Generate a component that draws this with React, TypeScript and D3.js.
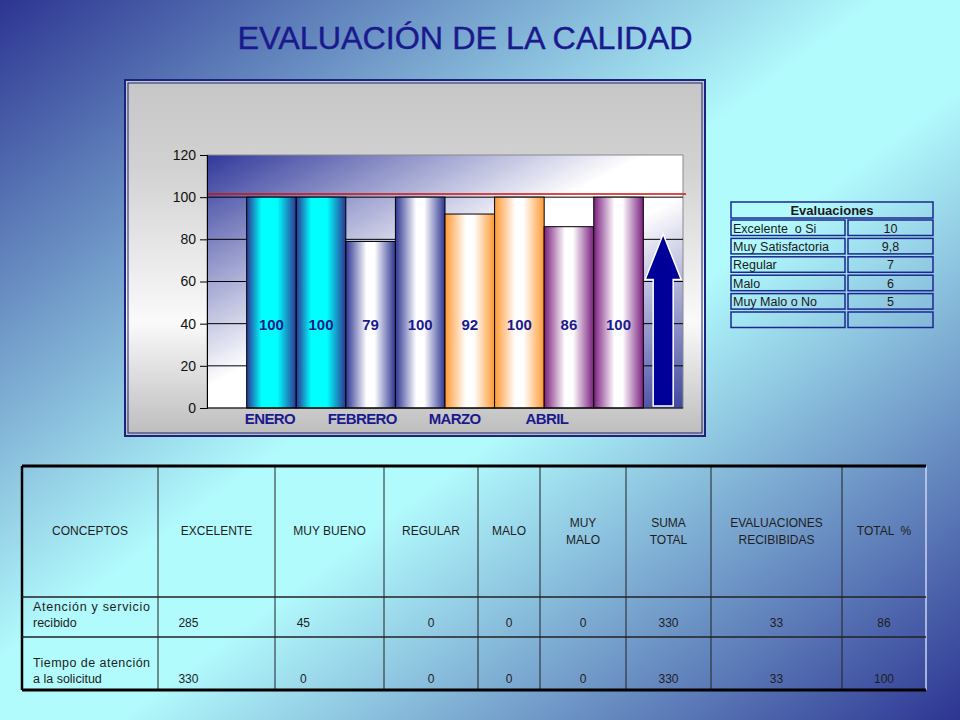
import React, { useEffect, useRef } from 'react';
import * as d3 from 'd3';

// chart data
const months = ['ENERO', 'FEBRERO', 'MARZO', 'ABRIL'];
const firstBar = [100, 79, 92, 86];
const secondBar = [100, 100, 100, 100];
const yTicks = [0, 20, 40, 60, 80, 100, 120];
const targetValue = 101.5;

// legend table
const legendLabels = ['Excelente  o Si', 'Muy Satisfactoria', 'Regular', 'Malo', 'Muy Malo o No', ''];
const legendValues = ['10', '9,8', '7', '6', '5', ''];

// bottom table
const tableHeaders = [
  ['CONCEPTOS'], ['EXCELENTE'], ['MUY BUENO'], ['REGULAR'], ['MALO'],
  ['MUY', 'MALO'], ['SUMA', 'TOTAL'], ['EVALUACIONES', 'RECIBIBIDAS'], ['TOTAL  %'],
];
const rowConcepts = [
  ['Atención  y  servicio', 'recibido'],
  ['Tiempo de atención', 'a la solicitud'],
];
const rowValues = [
  [285, 45, 0, 0, 0, 330, 33, 86],
  [330, 0, 0, 0, 0, 330, 33, 100],
];

const barGradients = [
  { id: 'g-enero', edge: '#2d3592', mid: '#00ffff', from: 0.3, to: 0.62 },
  { id: 'g-feb', edge: '#2d3592', mid: '#ffffff', from: 0.42, to: 0.58 },
  { id: 'g-mar', edge: '#ff9933', mid: '#ffffff', from: 0.42, to: 0.58 },
  { id: 'g-abr', edge: '#7b1f7e', mid: '#ffffff', from: 0.42, to: 0.58 },
];

const App: React.FC = () => {
  const svgRef = useRef<SVGSVGElement>(null);

  useEffect(() => {
    if (!svgRef.current) return;
    document.body.style.margin = '0';
    const svg = d3.select(svgRef.current);
    svg.selectAll('*').remove();

    const width = 960;
    const height = 720;
    const font = 'Arial, "Liberation Sans", sans-serif';
    const navy = '#1a1a8e';

    const defs = svg.append('defs');

    // page background
    const bg = defs.append('linearGradient').attr('id', 'bg')
      .attr('x1', 0).attr('y1', 0).attr('x2', 1).attr('y2', 1);
    bg.append('stop').attr('offset', '0%').attr('stop-color', '#2d3592');
    bg.append('stop').attr('offset', '46%').attr('stop-color', '#b2fbfd');
    bg.append('stop').attr('offset', '56%').attr('stop-color', '#b2fbfd');
    bg.append('stop').attr('offset', '100%').attr('stop-color', '#2d3592');
    svg.append('rect').attr('width', width).attr('height', height).attr('fill', 'url(#bg)');

    // title
    svg.append('text')
      .attr('x', 465).attr('y', 49)
      .attr('text-anchor', 'middle')
      .attr('font-family', font)
      .attr('font-size', 31)
      .attr('textLength', 455)
      .attr('lengthAdjust', 'spacingAndGlyphs')
      .attr('fill', navy)
      .attr('stroke', navy)
      .attr('stroke-width', 0.4)
      .text('EVALUACIÓN DE LA CALIDAD');

    // chart box
    const box = { x: 125, y: 80, w: 580, h: 356 };
    const boxFill = defs.append('linearGradient').attr('id', 'boxfill')
      .attr('x1', 0).attr('y1', 0).attr('x2', 0).attr('y2', 1);
    boxFill.append('stop').attr('offset', '0%').attr('stop-color', '#c6c6c6');
    boxFill.append('stop').attr('offset', '25%').attr('stop-color', '#d2d2d2');
    boxFill.append('stop').attr('offset', '68%').attr('stop-color', '#fafafa');
    boxFill.append('stop').attr('offset', '100%').attr('stop-color', '#bcbcbc');
    svg.append('rect')
      .attr('x', box.x).attr('y', box.y).attr('width', box.w).attr('height', box.h)
      .attr('fill', 'url(#boxfill)')
      .attr('stroke', '#1a237e').attr('stroke-width', 2);
    svg.append('rect')
      .attr('x', box.x + 3).attr('y', box.y + 3).attr('width', box.w - 6).attr('height', box.h - 6)
      .attr('fill', 'none')
      .attr('stroke', '#1a237e').attr('stroke-width', 1);

    // plot area
    const margin = { left: 207, right: 683, top: 155, bottom: 408 };
    const plotFill = defs.append('linearGradient').attr('id', 'plotfill')
      .attr('x1', 0).attr('y1', 0).attr('x2', 1).attr('y2', 1);
    plotFill.append('stop').attr('offset', '0%').attr('stop-color', '#30389a');
    plotFill.append('stop').attr('offset', '46%').attr('stop-color', '#ffffff');
    plotFill.append('stop').attr('offset', '58%').attr('stop-color', '#ffffff');
    plotFill.append('stop').attr('offset', '100%').attr('stop-color', '#3e469e');
    svg.append('rect')
      .attr('x', margin.left).attr('y', margin.top)
      .attr('width', margin.right - margin.left).attr('height', margin.bottom - margin.top)
      .attr('fill', 'url(#plotfill)')
      .attr('stroke', '#8a8a8a').attr('stroke-width', 1);

    const y = d3.scaleLinear().domain([0, 120]).range([margin.bottom, margin.top]);
    const x = d3.scaleBand().domain(months).range([margin.left, margin.right])
      .paddingInner(0).paddingOuter(0.4);
    const xSub = d3.scaleBand().domain(['a', 'b']).range([0, x.bandwidth()]).padding(0);
    const xLabel = d3.scalePoint().domain(months).range([270, 547]);

    // gridlines
    svg.append('g')
      .selectAll('line')
      .data(yTicks.filter(t => t > 0 && t < 120))
      .join('line')
      .attr('x1', margin.left).attr('x2', margin.right)
      .attr('y1', d => y(d)).attr('y2', d => y(d))
      .attr('stroke', '#000').attr('stroke-width', 1);

    // red target line
    svg.append('line')
      .attr('x1', margin.left).attr('x2', margin.right + 3)
      .attr('y1', y(targetValue)).attr('y2', y(targetValue))
      .attr('stroke', '#d01010').attr('stroke-width', 1.5);

    // bar gradients
    barGradients.forEach(g => {
      const lg = defs.append('linearGradient').attr('id', g.id)
        .attr('x1', 0).attr('y1', 0).attr('x2', 1).attr('y2', 0);
      lg.append('stop').attr('offset', 0).attr('stop-color', g.edge);
      lg.append('stop').attr('offset', g.from).attr('stop-color', g.mid);
      lg.append('stop').attr('offset', g.to).attr('stop-color', g.mid);
      lg.append('stop').attr('offset', 1).attr('stop-color', g.edge);
    });

    const bars = months.flatMap((m, i) => [
      { month: m, key: 'a', value: firstBar[i], grad: barGradients[i].id },
      { month: m, key: 'b', value: secondBar[i], grad: barGradients[i].id },
    ]);

    svg.append('g')
      .selectAll('rect')
      .data(bars)
      .join('rect')
      .attr('x', d => x(d.month)! + xSub(d.key)!)
      .attr('y', d => y(d.value))
      .attr('width', xSub.bandwidth())
      .attr('height', d => y(0) - y(d.value))
      .attr('fill', d => `url(#${d.grad})`)
      .attr('stroke', '#000')
      .attr('stroke-width', 1);

    svg.append('g')
      .selectAll('text')
      .data(bars)
      .join('text')
      .attr('x', d => x(d.month)! + xSub(d.key)! + xSub.bandwidth() / 2)
      .attr('y', d => y(37))
      .attr('text-anchor', 'middle')
      .attr('font-family', font)
      .attr('font-weight', 'bold')
      .attr('font-size', 15)
      .attr('fill', navy)
      .text(d => d.value);

    // arrow
    const ax = (x(months[months.length - 1])! + x.bandwidth() + margin.right) / 2;
    const tip = y(82.5);
    const headBase = y(61);
    const foot = y(1);
    const arrowPath = [
      [ax, tip], [ax + 18, headBase], [ax + 10, headBase], [ax + 10, foot],
      [ax - 10, foot], [ax - 10, headBase], [ax - 18, headBase],
    ];
    svg.append('path')
      .attr('d', d3.line()(arrowPath as [number, number][]) + 'Z')
      .attr('fill', '#000099')
      .attr('stroke', '#ffffff')
      .attr('stroke-width', 1.5);

    // y axis
    const yAxis = svg.append('g')
      .attr('transform', `translate(${margin.left},0)`)
      .call(d3.axisLeft(y).tickValues(yTicks).tickSize(7).tickPadding(4));
    yAxis.select('.domain').attr('stroke', '#000');
    yAxis.selectAll('line').attr('stroke', '#000');
    yAxis.selectAll('text')
      .attr('font-family', font)
      .attr('font-size', 14)
      .attr('fill', '#111');

    // x axis line
    svg.append('line')
      .attr('x1', margin.left).attr('x2', margin.right)
      .attr('y1', y(0)).attr('y2', y(0))
      .attr('stroke', '#000').attr('stroke-width', 1);

    svg.append('g')
      .selectAll('text')
      .data(months)
      .join('text')
      .attr('x', d => xLabel(d)!)
      .attr('y', 424)
      .attr('text-anchor', 'middle')
      .attr('font-family', font)
      .attr('font-weight', 'bold')
      .attr('font-size', 15)
      .attr('letter-spacing', -0.6)
      .attr('fill', navy)
      .text(d => d);

    // legend table
    const lg = svg.append('g').attr('font-family', font).attr('fill', '#1a1a1a');
    const legX = 731, legW = 202, col1W = 114, col2X = 848;
    const cellStroke = '#1c2890';
    lg.append('rect').attr('x', legX).attr('y', 202).attr('width', legW).attr('height', 16)
      .attr('fill', 'none').attr('stroke', cellStroke).attr('stroke-width', 1.5);
    lg.append('text').attr('x', legX + legW / 2).attr('y', 215)
      .attr('text-anchor', 'middle').attr('font-size', 13).attr('font-weight', 'bold')
      .attr('fill', '#1a1a1a').text('Evaluaciones');
    legendLabels.forEach((label, i) => {
      const ry = 220 + i * 18.4;
      lg.append('rect').attr('x', legX).attr('y', ry).attr('width', col1W).attr('height', 15.5)
        .attr('fill', 'none').attr('stroke', cellStroke).attr('stroke-width', 1.5);
      lg.append('rect').attr('x', col2X).attr('y', ry).attr('width', legX + legW - col2X).attr('height', 15.5)
        .attr('fill', 'none').attr('stroke', cellStroke).attr('stroke-width', 1.5);
      lg.append('text').attr('x', legX + 2).attr('y', ry + 12.5)
        .attr('font-size', 12.5).attr('fill', '#1a1a1a')
        .style('white-space', 'pre').text(label);
      lg.append('text').attr('x', (col2X + legX + legW) / 2).attr('y', ry + 12.5)
        .attr('text-anchor', 'middle').attr('font-size', 12.5).attr('fill', '#1a1a1a')
        .text(legendValues[i]);
    });

    // bottom table
    const cols = [22, 158, 275, 384, 478, 540, 626, 711, 842, 926];
    const tTop = 466, r1 = 597, r2 = 637, tBot = 690;
    const tb = svg.append('g').attr('font-family', font);

    cols.slice(1, -1).forEach(cx => {
      tb.append('line').attr('x1', cx).attr('x2', cx).attr('y1', tTop).attr('y2', tBot)
        .attr('stroke', '#222').attr('stroke-width', 1);
    });
    tb.append('line').attr('x1', cols[9]).attr('x2', cols[9]).attr('y1', tTop).attr('y2', tBot)
      .attr('stroke', '#c8d4f0').attr('stroke-width', 1.5);
    tb.append('line').attr('x1', cols[0]).attr('x2', cols[0]).attr('y1', tTop).attr('y2', tBot)
      .attr('stroke', '#000').attr('stroke-width', 2.5);
    [r1, r2].forEach(ry => {
      tb.append('line').attr('x1', cols[0]).attr('x2', cols[9]).attr('y1', ry).attr('y2', ry)
        .attr('stroke', '#222').attr('stroke-width', 1.5);
    });
    [tTop, tBot].forEach(ry => {
      tb.append('line').attr('x1', cols[0]).attr('x2', cols[9]).attr('y1', ry).attr('y2', ry)
        .attr('stroke', '#000').attr('stroke-width', 3);
    });

    tableHeaders.forEach((lines, i) => {
      const cx = (cols[i] + cols[i + 1]) / 2;
      lines.forEach((ln, j) => {
        tb.append('text')
          .attr('x', cx)
          .attr('y', 535 + (j - (lines.length - 1) / 2) * 17)
          .attr('text-anchor', 'middle')
          .attr('font-size', 12)
          .attr('fill', '#1e1e1e')
          .style('white-space', 'pre')
          .text(ln);
      });
    });

    const rowBase = [r1, r2];
    rowConcepts.forEach((lines, r) => {
      const base = rowBase[r] + (r === 0 ? 30 : 46);
      tb.append('text').attr('x', 33).attr('y', base - 16)
        .attr('font-size', 12.5).attr('fill', '#1e1e1e')
        .attr('textLength', 117).attr('lengthAdjust', 'spacing')
        .text(lines[0]);
      tb.append('text').attr('x', 33).attr('y', base)
        .attr('font-size', 12.5).attr('fill', '#1e1e1e')
        .text(lines[1]);
      rowValues[r].forEach((v, c) => {
        const x0 = cols[c + 1], w = cols[c + 2] - cols[c + 1];
        const cx = c < 2 ? x0 + w * 0.26 : x0 + w / 2;
        tb.append('text').attr('x', cx).attr('y', base)
          .attr('text-anchor', 'middle')
          .attr('font-size', 12)
          .attr('fill', '#1e1e1e')
          .text(v);
      });
    });
  }, []);

  return (
    <svg
      ref={svgRef}
      width={960}
      height={720}
      style={{ position: 'absolute', left: 0, top: 0, display: 'block' }}
    />
  );
};

export default App;
